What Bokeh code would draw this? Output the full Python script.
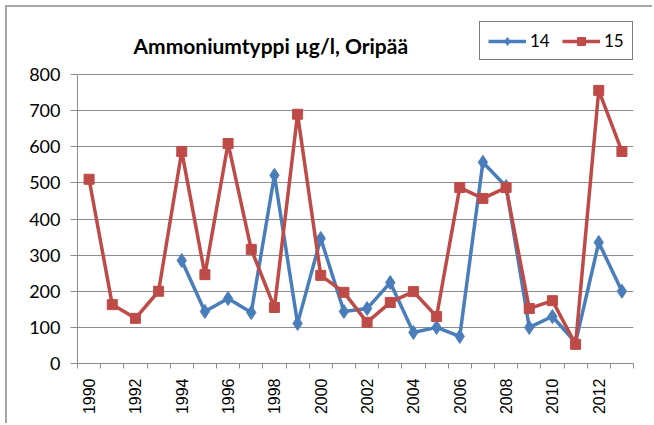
import math
from bokeh.plotting import figure
from bokeh.models import FixedTicker, Range1d, Legend, LegendItem, ColumnDataSource, Label
from bokeh.embed import file_html
from bokeh.resources import INLINE

years = list(range(1990, 2014))
s14 = [None, None, None, None, 285, 144, 180, 141, 521, 111, 346, 144, 152, 224,
       86, 100, 75, 557, 490, 100, 130, 58, 335, 200]
s15 = [510, 163, 125, 200, 587, 246, 609, 316, 155, 690, 244, 197, 114, 169,
       199, 130, 487, 457, 487, 152, 174, 53, 756, 587]
y_ticks = [0, 100, 200, 300, 400, 500, 600, 700, 800]
x_label_years = list(range(1990, 2013, 2))
title_text = "Ammoniumtyppi µg/l, Oripää"
series_names = ["14", "15"]

BLUE = "#4A7EBB"
RED = "#BE4B48"
GRID = "#8c8c8c"

# layout (pixels)
ORIGIN = 7                 # canvas origin after margin + border
FRAME_TOP_PLOT = 74        # where the 800 gridline sits
FRAME_BOTTOM = 363
FRAME_LEFT = 77
FRAME_RIGHT = 633
W, H = 654 - ORIGIN, 425 - ORIGIN

y_max = y_ticks[-1]
# frame extends to the top of the canvas so that title and legend sit inside it
y_end = y_max * (FRAME_BOTTOM - ORIGIN) / (FRAME_BOTTOM - FRAME_TOP_PLOT)

src14 = ColumnDataSource(dict(x=[y for y, v in zip(years, s14) if v is not None],
                              y=[v for v in s14 if v is not None]))
src15 = ColumnDataSource(dict(x=years, y=s15))

p = figure(width=W, height=H, output_backend="svg", toolbar_location=None,
           x_range=Range1d(years[0] - 0.5, years[-1] + 0.5),
           y_range=Range1d(0, y_end),
           min_border_left=FRAME_LEFT - ORIGIN, min_border_right=654 - FRAME_RIGHT,
           min_border_top=0, min_border_bottom=425 - FRAME_BOTTOM)
p.outline_line_color = None
p.background_fill_color = "white"
p.border_fill_color = "white"
p.styles = {"margin-left": "5px", "margin-top": "5px",
            "border-left": "2px solid #a6a6a6", "border-top": "2px solid #a6a6a6"}

# x axis: labels every other year, tick marks between categories
p.xaxis.ticker = FixedTicker(ticks=x_label_years,
                             minor_ticks=[y - 0.5 for y in years] + [years[-1] + 0.5])
p.xaxis.major_tick_out = 0
p.xaxis.major_tick_in = 0
p.xaxis.minor_tick_out = 5
p.xaxis.minor_tick_in = 0
p.xaxis.minor_tick_line_color = GRID
p.xaxis.axis_line_color = GRID
p.xaxis.major_label_orientation = math.pi / 2
p.xaxis.major_label_text_font = "Liberation Sans"
p.xaxis.major_label_text_font_size = "16px"
p.xaxis.major_label_text_color = "black"
p.xaxis.major_label_standoff = 10

p.yaxis.ticker = FixedTicker(ticks=y_ticks)
p.yaxis.bounds = (0, y_max)
p.yaxis.major_tick_out = 7
p.yaxis.major_tick_in = 0
p.yaxis.minor_tick_line_color = None
p.yaxis.major_tick_line_color = GRID
p.yaxis.axis_line_color = GRID
p.yaxis.major_label_text_font = "Lato"
p.yaxis.major_label_text_font_size = "18px"
p.yaxis.major_label_text_color = "black"
p.yaxis.major_label_standoff = 10

p.xgrid.grid_line_color = None
p.ygrid.grid_line_color = GRID
p.ygrid.grid_line_width = 1

l14 = p.line("x", "y", source=src14, line_color=BLUE, line_width=3.5)
m14 = p.scatter("x", "y", source=src14, marker="diamond", size=14,
                fill_color=BLUE, line_color=BLUE)
l15 = p.line("x", "y", source=src15, line_color=RED, line_width=3.5)
m15 = p.scatter("x", "y", source=src15, marker="square", size=10,
                fill_color=RED, line_color=RED)

p.add_layout(Label(x=56, y=FRAME_BOTTOM - 45, x_units="screen", y_units="screen",
                   text=title_text, text_font="Lato", text_font_size="21px",
                   text_font_style="bold", text_color="black",
                   text_baseline="alphabetic"))

legend = Legend(items=[LegendItem(label=series_names[0], renderers=[l14, m14]),
                       LegendItem(label=series_names[1], renderers=[l15, m15])],
                orientation="horizontal", location=(402, FRAME_BOTTOM - 60),
                border_line_color="black", border_line_width=1,
                background_fill_color="white", background_fill_alpha=1,
                padding=8, spacing=12, margin=0,
                glyph_width=38, glyph_height=20, label_height=20,
                label_standoff=4, label_text_font="Lato",
                label_text_font_size="17px", label_text_color="black")
p.add_layout(legend, "center")

open("out.html", "w").write(file_html(p, INLINE))
